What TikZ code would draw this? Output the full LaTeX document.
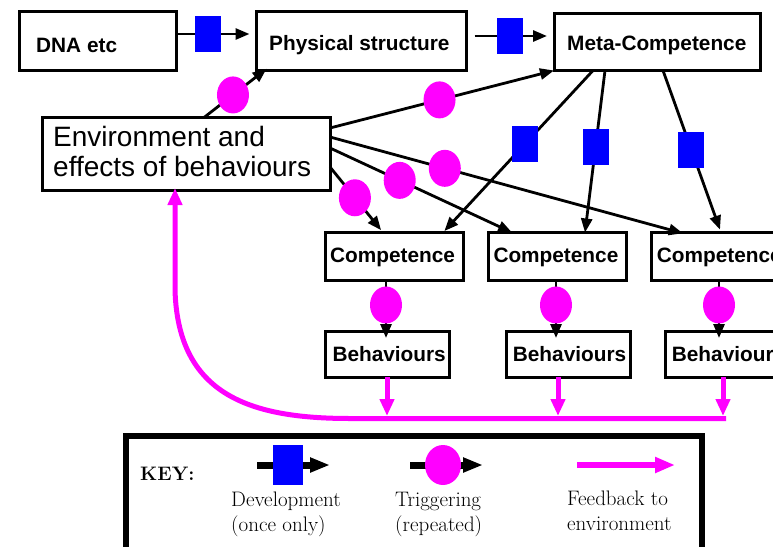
\documentclass[tikz,border=0pt]{standalone}
\usepackage{fontspec}
\newfontfamily\hel{Liberation Sans}
\usetikzlibrary{arrows.meta,shapes.geometric}
\definecolor{devblue}{RGB}{0,0,255}
\definecolor{trigmag}{RGB}{255,0,255}
\tikzset{
  box/.style={draw, line width=3pt, rectangle, inner sep=0pt, outer sep=0pt},
  lbl/.style={anchor=base west, inner sep=0pt, font=\hel\bfseries\fontsize{20.8}{24}\selectfont},
  envlbl/.style={anchor=base west, inner sep=0pt, font=\hel\fontsize{28}{30}\selectfont},
  keylbl/.style={anchor=base west, inner sep=0pt, font=\fontsize{21}{25}\selectfont\addfontfeatures{FakeBold=0.5}},
  conn/.style={line width=2.8pt, -{Triangle[length=14pt,width=11pt]}},
  dev/.style={fill=devblue, draw=none, rectangle, minimum width=26pt, minimum height=36pt, inner sep=0pt},
  trig/.style={fill=trigmag, draw=none, ellipse, minimum width=32pt, minimum height=37pt, inner sep=0pt},
  fb/.style={draw=trigmag, line width=5pt, -{Triangle[length=17pt,width=14pt]}},
  keyconn/.style={line width=7pt, -{Triangle[length=20pt,width=14pt]}},
}
\begin{document}
\begin{tikzpicture}[x=1pt,y=-1pt]
\useasboundingbox (0,0) rectangle (773,546);
% boxes
\node[box, minimum width=157.5, minimum height=58.5] (dna) at (97.75,40.75) {};
\node[box, minimum width=210, minimum height=58.5] (phys) at (361.5,40.75) {};
\node[box, minimum width=206.5, minimum height=57.5] (meta) at (657.25,41.75) {};
\node[box, minimum width=288, minimum height=72.5] (env) at (186,153.75) {};
\node[box, minimum width=138.5, minimum height=47.5] (comp1) at (394.25,256.25) {};
\node[box, minimum width=138.4, minimum height=47.5] (comp2) at (557.5,256.25) {};
\node[box, minimum width=138.3, minimum height=47.5] (comp3) at (720.85,256.25) {};
\node[box, minimum width=124.3, minimum height=46.3] (beh1) at (387.15,354.15) {};
\node[box, minimum width=124, minimum height=46.3] (beh2) at (568,354.15) {};
\node[box, minimum width=124, minimum height=46.3] (beh3) at (727,354.15) {};
% labels
\node[lbl] (dnat) at (36,52) {DNA etc};
\node[lbl] (physt) at (269,50) {Physical structure};
\node[lbl] (metat) at (567,50.7) {Meta-Competence};
\node[envlbl] (envt1) at (53,146.7) {Environment and};
\node[envlbl] (envt2) at (53,176.7) {effects of behaviours};
\node[lbl] (comp1t) at (330,262.3) {Competence};
\node[lbl] (comp2t) at (493.3,262.3) {Competence};
\node[lbl] (comp3t) at (656.7,262.3) {Competence};
\node[lbl] (beh1t) at (332.3,361) {Behaviours};
\node[lbl] (beh2t) at (512.7,361) {Behaviours};
\node[lbl] (beh3t) at (671.7,361) {Behaviours};
% development connectors
\draw[conn, shorten >=7pt] (dna.east |- 0,34) -- node[dev, pos=.3875] (d1) {} (phys.west |- 0,34);
\draw[conn, shorten <=8pt, shorten >=7pt] (phys.east |- 0,36) -- node[dev, pos=.497] (d2) {} (meta.west |- 0,36);
\draw[conn, shorten >=2pt] (meta.south -| 593,0) -- node[dev, pos=.453] (d3) {} (comp1.north -| 443,0);
\draw[conn] (meta.south -| 605,0) -- node[dev, pos=.475] (d4) {} (comp2.north -| 585,0);
\draw[conn, shorten >=3pt] (meta.south -| 663,0) -- node[dev, pos=.489] (d5) {} (comp3.north -| 721,0);
% triggering connectors
\draw[conn, shorten >=-2pt] (env.north -| 204,0) -- node[trig, pos=.475] (t1) {} (phys.south -| 265,0);
\draw[conn] (env.east |- 0,128) -- node[trig, pos=.489] (t2) {} (meta.south west);
\draw[conn, shorten >=-3pt] (env.east |- 0,137) -- node[trig, pos=.328] (t3) {} (comp3.north -| 680,0);
\draw[conn] (env.east |- 0,148) -- node[trig, pos=.383] (t4) {} (comp2.north -| 512,0);
\draw[conn, shorten >=3pt] (env.east |- 0,167) -- node[trig, pos=.47] (t5) {} (comp1.north -| 383,0);
\draw[conn, shorten >=-7pt] (comp1.south -| 386,0) -- node[trig, pos=.49] (t6) {} (beh1.north -| 386,0);
\draw[conn, shorten >=-7pt] (comp2.south -| 556,0) -- node[trig, pos=.49] (t7) {} (beh2.north -| 556,0);
\draw[conn, shorten >=-7pt] (comp3.south -| 719,0) -- node[trig, pos=.49] (t8) {} (beh3.north -| 719,0);
% feedback
\coordinate (f1) at (387,416);
\coordinate (f2) at (558,416);
\coordinate (f3) at (723,416);
\coordinate (fend) at (726,418.5);
\draw[fb] (beh1.south -| f1) -- (f1);
\draw[fb] (beh2.south -| f2) -- (f2);
\draw[fb] (beh3.south -| f3) -- (f3);
\draw[fb, shorten >=-2pt] (fend) -- (350,418.5) .. controls (250,418.5) and (178,395) .. (175,290) -- (env.south -| 175,0);
% key
\node[draw, line width=6pt, rectangle, inner sep=0pt, minimum width=576.5, minimum height=124] (key) at (413.75,498) {};
\node[anchor=base west, inner sep=0pt, font=\bfseries\fontsize{19.5}{22}\selectfont] (keyt) at (140,480) {KEY:};
\coordinate (k1a) at (257,465);
\coordinate (k1b) at (330,465);
\coordinate (k2a) at (410,465);
\coordinate (k2b) at (483,465);
\coordinate (k3a) at (577,465);
\coordinate (k3b) at (675,465);
\draw[keyconn] (k1a) -- node[dev, pos=.425, minimum width=30pt, minimum height=40pt] (kd) {} (k1b);
\draw[keyconn] (k2a) -- node[trig, pos=.452, minimum width=36pt, minimum height=40pt] (kt) {} (k2b);
\draw[draw=trigmag, line width=6pt, -{Triangle[length=20pt,width=15pt]}] (k3a) -- (k3b);
\node[keylbl] (kdt1) at (231,506) {Development};
\node[keylbl] (kdt2) at (231,531) {(once only)};
\node[keylbl] (ktt1) at (395,506) {Triggering};
\node[keylbl] (ktt2) at (395,531) {(repeated)};
\node[keylbl] (kft1) at (567,505) {Feedback to};
\node[keylbl] (kft2) at (567,530) {environment};
\end{tikzpicture}
\end{document}
